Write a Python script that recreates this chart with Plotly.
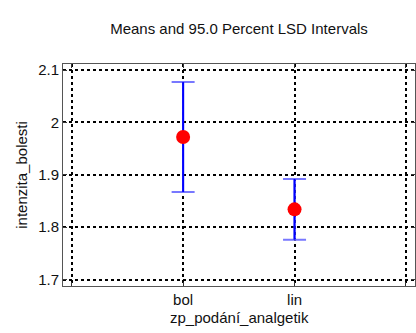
import plotly.graph_objects as go

categories = ["bol", "lin"]
cat_pos = [1, 2]
means = [1.972, 1.834]
lsd_half = [0.105, 0.058]

grid_x = [0, 1, 2, 3]
grid_x_text = ["", "bol", "lin", ""]
y_ticks = [1.7, 1.8, 1.9, 2.0, 2.1]
y_tick_text = ["1.7", "1.8", "1.9", "2", "2.1"]

FONT = "Liberation Sans, Arial, sans-serif"
TXT = "#111111"

fig = go.Figure()
# caps (light blue)
fig.add_trace(go.Scatter(
    x=cat_pos, y=means, mode="markers",
    marker=dict(size=1, color="rgba(0,0,0,0)"),
    error_y=dict(type="data", array=lsd_half, visible=True,
                 color="#7878ff", thickness=2, width=11.5),
    showlegend=False, hoverinfo="skip"))
# vertical line (blue)
fig.add_trace(go.Scatter(
    x=cat_pos, y=means, mode="markers",
    marker=dict(size=1, color="rgba(0,0,0,0)"),
    error_y=dict(type="data", array=lsd_half, visible=True,
                 color="#0000ff", thickness=2, width=0),
    showlegend=False, hoverinfo="skip"))
# means
fig.add_trace(go.Scatter(
    x=cat_pos, y=means, mode="markers",
    marker=dict(size=14, color="#ff0000"),
    showlegend=False))

axis_common = dict(
    showgrid=True, gridcolor="black", gridwidth=1.5, griddash="dot",
    showline=True, linecolor="#555555", linewidth=1, mirror="ticks",
    ticks="inside", ticklen=4, tickcolor="#333333", tickwidth=1,
    zeroline=False, automargin=False,
    tickfont=dict(family=FONT, size=15, color=TXT),
)

fig.update_xaxes(
    range=[-0.078, 3.081], tickmode="array", tickvals=grid_x, ticktext=grid_x_text,
    **axis_common)
fig.update_yaxes(
    range=[1.6876, 2.1115], tickmode="array", tickvals=y_ticks, ticktext=y_tick_text,
    **axis_common)

fig.add_annotation(text="zp_podání_analgetik", xref="paper", yref="paper",
                   x=0.5, y=-0.14, xanchor="center", yanchor="middle",
                   showarrow=False, font=dict(family=FONT, size=15, color=TXT))
fig.add_annotation(text="intenzita_bolesti", xref="paper", yref="paper",
                   x=-0.12, y=0.5, xanchor="center", yanchor="middle", textangle=-90,
                   showarrow=False, font=dict(family=FONT, size=15, color=TXT))

fig.update_layout(
    width=416, height=333,
    margin=dict(l=63, r=1, t=64, b=47),
    paper_bgcolor="white", plot_bgcolor="white",
    title=dict(text="Means and 95.0 Percent LSD Intervals",
               font=dict(family=FONT, size=15, color=TXT),
               x=0.5745, xref="container", xanchor="center", y=0.915, yanchor="middle"),
)

fig.write_html("out.html", config={"displayModeBar": False},
               post_script="document.body.style.margin='0';")
